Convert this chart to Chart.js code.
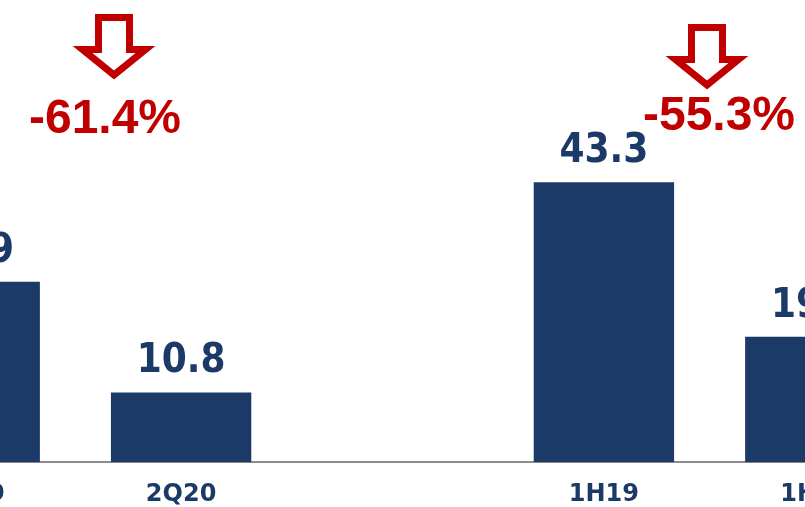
<!DOCTYPE html>
<html>
<head>
<meta charset="utf-8">
<script src="https://cdn.jsdelivr.net/npm/chart.js@4/dist/chart.umd.min.js"></script>
<style>
  html, body { margin: 0; padding: 0; background: #ffffff; }
  #frame { position: relative; width: 805px; height: 507px; overflow: hidden; }
  #chart { position: absolute; left: -136px; top: 0; }
</style>
</head>
<body>
<div id="frame">
  <canvas id="chart" width="1057" height="527"></canvas>
</div>
<script>
// data (the chart is cropped at both sides)
const categories = ["2Q19", "2Q20", "", "1H19", "1H20"];
const values = [27.9, 10.8, null, 43.3, 19.4];
const changeLabels = ["-61.4%", "-55.3%"];

const NAVY = "#1b3a68";
const RED = "#c00000";
const CANVAS_SHIFT = 136; // canvas is moved left, page x + shift = canvas x

// arrow + percentage callouts, placed in page pixels
const callouts = [
    {text: changeLabels[0], arrowX: 114, arrowTop: 14, textX: 105, textY: 133},
    {text: changeLabels[1], arrowX: 707, arrowTop: 24, textX: 719, textY: 130}
];

function drawArrow(ctx, cx, top) {
    /**
     * Hollow red arrow pointing down, drawn with its outline centred on
     * the path so the outer edge matches the picture.
     */
    const lw = 7;
    const stemHalf = 19 - lw / 2;
    const headHalf = 35 - lw / 2;
    const t = top + lw / 2;
    const headY = top + 32 + lw / 2;
    const tipY = top + 61;

    ctx.save();
    ctx.beginPath();
    ctx.moveTo(cx - stemHalf, t);
    ctx.lineTo(cx + stemHalf, t);
    ctx.lineTo(cx + stemHalf, headY);
    ctx.lineTo(cx + headHalf, headY);
    ctx.lineTo(cx, tipY);
    ctx.lineTo(cx - headHalf, headY);
    ctx.lineTo(cx - stemHalf, headY);
    ctx.closePath();
    ctx.fillStyle = "#ffffff";
    ctx.fill();
    ctx.lineWidth = lw;
    ctx.lineJoin = "miter";
    ctx.strokeStyle = RED;
    ctx.stroke();
    ctx.restore();
}

const labelPlugin = {
    id: "labelPlugin",
    afterDatasetsDraw(chart) {
        const ctx = chart.ctx;
        const meta = chart.getDatasetMeta(0);

        ctx.save();
        ctx.fillStyle = NAVY;
        ctx.font = "bold 40px 'DejaVu Sans Condensed', 'DejaVu Sans'";
        ctx.textAlign = "center";
        ctx.textBaseline = "alphabetic";
        meta.data.forEach((bar, i) => {
            const v = values[i];
            if (v === null) return;
            ctx.fillText(v.toFixed(1), bar.x, bar.y - 20);
        });
        ctx.restore();

        callouts.forEach(c => {
            drawArrow(ctx, c.arrowX + CANVAS_SHIFT, c.arrowTop);
            ctx.save();
            ctx.fillStyle = RED;
            ctx.font = "bold 48px 'Liberation Sans', Arial";
            ctx.textAlign = "center";
            ctx.textBaseline = "alphabetic";
            ctx.fillText(c.text, c.textX + CANVAS_SHIFT, c.textY);
            ctx.restore();
        });
    }
};

new Chart(document.getElementById("chart"), {
    type: "bar",
    data: {
        labels: categories,
        datasets: [{
            data: values,
            backgroundColor: NAVY,
            categoryPercentage: 1.0,
            barPercentage: 0.664
        }]
    },
    options: {
        responsive: false,
        animation: false,
        events: [],
        layout: {padding: 0},
        plugins: {legend: {display: false}, tooltip: {enabled: false}},
        scales: {
            x: {
                grid: {display: false, drawTicks: false},
                border: {display: true, color: "#8c8c8c", width: 2},
                ticks: {
                    autoSkip: false,
                    maxRotation: 0,
                    padding: 18,
                    color: NAVY,
                    font: {family: "'DejaVu Sans'", size: 24, weight: "bold"}
                }
            },
            y: {
                display: false,
                min: 0,
                max: 71.5
            }
        }
    },
    plugins: [labelPlugin]
});
</script>
</body>
</html>
